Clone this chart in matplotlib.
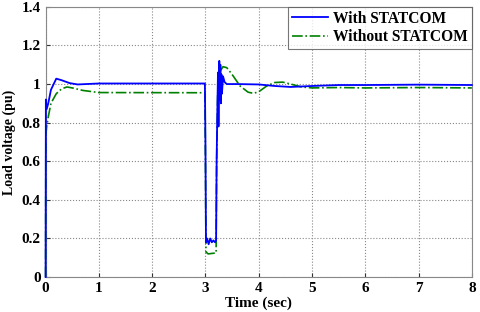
import numpy as np
import matplotlib
matplotlib.use('Agg')
import matplotlib.pyplot as plt

plt.rcParams['font.family'] = 'Liberation Serif'
plt.rcParams['font.weight'] = 'bold'

# With STATCOM (time, pu)
t_with = [0, 0.005, 0.02, 0.05, 0.1, 0.2, 0.3, 0.45, 0.6, 1.0, 2.99, 3.0, 3.01, 3.03, 3.06,
          3.09, 3.12, 3.15, 3.18, 3.2, 3.21, 3.22, 3.235, 3.245, 3.26, 3.27, 3.28, 3.29,
          3.30, 3.31, 3.33, 3.36, 3.4, 3.45, 3.6, 4.0, 4.3, 4.6, 5.0, 5.5, 6, 7, 8]
v_with = [0, 0.92, 0.87, 0.9, 0.97, 1.028, 1.02, 1.005, 0.998, 1.003, 1.003, 0.7, 0.18, 0.2,
          0.17, 0.2, 0.18, 0.19, 0.18, 0.19, 0.6, 0.8, 1.06, 0.78, 1.12, 0.92, 1.1, 0.9,
          1.05, 0.95, 1.04, 1.01, 1.0, 1.0, 1.0, 0.998, 0.99, 0.985, 0.99, 0.995, 0.995,
          0.997, 0.995]

# Without STATCOM
t_without = [0, 0.005, 0.02, 0.05, 0.1, 0.2, 0.3, 0.4, 0.5, 0.7, 1.0, 2.99, 3.0, 3.01, 3.05,
             3.2, 3.21, 3.23, 3.26, 3.33, 3.4, 3.5, 3.65, 3.8, 3.9, 4.0, 4.15, 4.3, 4.45,
             4.6, 4.8, 5.0, 5.5, 6, 7, 8]
v_without = [0, 0.74, 0.78, 0.83, 0.9, 0.95, 0.975, 0.985, 0.98, 0.967, 0.956, 0.955, 0.6,
             0.13, 0.12, 0.125, 0.6, 0.95, 1.06, 1.09, 1.085, 1.05, 0.99, 0.958, 0.952,
             0.96, 0.99, 1.008, 1.01, 1.0, 0.985, 0.98, 0.982, 0.98, 0.982, 0.98]

fig = plt.figure(figsize=(4.8, 3.12), dpi=100)
ax = fig.add_axes([0.095, 0.112, 0.888, 0.866])

ax.plot(t_with, v_with, '-', color='#0000ff', lw=1.3, label='With STATCOM',
        zorder=4, clip_on=False)
ax.plot(t_without, v_without, '-.', color='#008000', lw=1.2, label='Without STATCOM',
        zorder=3, clip_on=False)

ax.set_xlim(0, 8)
ax.set_ylim(0, 1.4)
ax.set_xticks(np.arange(0, 9, 1))
ax.set_yticks([0, 0.2, 0.4, 0.6, 0.8, 1.0, 1.2, 1.4])
ax.set_yticklabels(['0', '0.2', '0.4', '0.6', '0.8', '1', '1.2', '1.4'])
ax.tick_params(direction='in', labelsize=11, colors='#333333', labelcolor='black', length=3)
for lab in ax.get_xticklabels() + ax.get_yticklabels():
    lab.set_fontweight('bold')

ax.grid(True, linestyle=':', color='#888888', lw=0.8)
for s in ax.spines.values():
    s.set_color('#888888')
    s.set_zorder(2)

ax.set_xlabel('Time (sec)', fontsize=11, fontweight='bold', labelpad=1)
ax.set_ylabel('Load voltage (pu)', fontsize=10, fontweight='bold', labelpad=4)

leg = ax.legend(loc='upper right', fontsize=11.2, frameon=True, fancybox=False,
                borderaxespad=0, handlelength=2.3, handletextpad=0.35, borderpad=0.25,
                labelspacing=0.15)
leg.get_frame().set_edgecolor('#555555')
leg.get_frame().set_linewidth(0.8)
leg.set_zorder(5)
for txt in leg.get_texts():
    txt.set_fontweight('bold')

fig.savefig('out.png', dpi=100)
